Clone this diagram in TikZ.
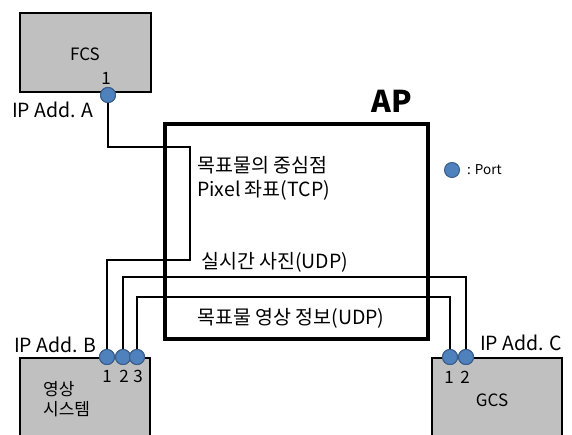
\documentclass[tikz,border=0pt]{standalone}
\usepackage{fontspec}
\setmainfont{Noto Sans CJK KR}
\begin{document}
\begin{tikzpicture}[x=1pt,y=-1pt,
  sysbox/.style={draw=black,line width=1.8pt,fill=boxgray},
  port/.style={circle,draw=portedge,line width=1pt,fill=portblue,minimum size=15pt,inner sep=0pt},
  conn/.style={line width=2.8pt,black},
  lbl/.style={font=\fontsize{17}{20}\selectfont,inner sep=0pt},
  big/.style={font=\fontsize{19.5}{24}\selectfont,inner sep=0pt},
  num/.style={font=\fontsize{17}{20}\selectfont,inner sep=0pt}]
\definecolor{boxgray}{RGB}{192,192,192}
\definecolor{portblue}{RGB}{79,129,189}
\definecolor{portedge}{RGB}{56,93,138}
\clip (0,0) rectangle (572,434);
\fill[white] (0,0) rectangle (572,434);
% boxes
\draw[sysbox] (20,13) rectangle (151,92);
\node[lbl] (fcs) at (85,54) {FCS};
\draw[sysbox] (20,358) rectangle (150,450);
\draw[sysbox] (432,358) rectangle (562,450);
\node[lbl,anchor=west,align=left] (vs) at (43,399) {영상\\시스템};
\node[lbl] (gcs) at (492,400) {GCS};
% AP
\node[draw=black,line width=3.5pt,minimum width=263pt,minimum height=215pt,anchor=north west,inner sep=0pt] (ap) at (163,122) {};
\node[font=\fontsize{30}{32}\bfseries\selectfont,inner sep=0pt] (aplbl) at (392,101) {AP};
% ports
\node[port] (pa) at (108,95) {};
\node[port] (pb1) at (107,357) {};
\node[port] (pb2) at (123,357) {};
\node[port] (pb3) at (137,357) {};
\node[port] (pc1) at (450,357) {};
\node[port] (pc2) at (466,357) {};
% bend coordinates
\coordinate (a1) at (108,147);
\coordinate (a2) at (190,147);
\coordinate (a3) at (190,260);
\coordinate (a4) at (107,260);
\coordinate (b1) at (123,277);
\coordinate (b2) at (466,277);
\coordinate (c1) at (137,297);
\coordinate (c2) at (450,297);
% connectors
\draw[conn,line join=miter] (pa) -- (a1) -- (a2) -- (a3) -- (a4) -- (pb1);
\draw[conn,line join=miter] (pb2) -- (b1) -- (b2) -- (pc2);
\draw[conn,line join=miter] (pb3) -- (c1) -- (c2) -- (pc1);
% redraw ports on top
\node[port] at (pa) {};
\node[port] at (pb1) {};
\node[port] at (pb2) {};
\node[port] at (pb3) {};
\node[port] at (pc1) {};
\node[port] at (pc2) {};
% labels
\node[num] (na) at (106,78) {1};
\node[big,anchor=west] (ipa) at (12,110) {IP Add. A};
\node[big,anchor=west] (ipb) at (14,345) {IP Add. B};
\node[big,anchor=west] (ipc) at (480,343) {IP Add. C};
\node[num] (nb1) at (107,376) {1};
\node[num] (nb2) at (124,376) {2};
\node[num] (nb3) at (138,376) {3};
\node[num] (nc1) at (449,377) {1};
\node[num] (nc2) at (465,377) {2};
\node[big,anchor=west] (t1) at (197,165) {목표물의 중심점};
\node[big,anchor=west] (t2) at (197,190) {Pixel 좌표(TCP)};
\node[big,anchor=west] (t3) at (201,262) {실시간 사진(UDP)};
\node[big,anchor=west] (t4) at (197,318) {목표물 영상 정보(UDP)};
% legend
\node[port] (lp) at (452,170) {};
\node[font=\fontsize{13.5}{15}\selectfont,anchor=west,inner sep=0pt] (lt) at (467,170) {: Port};
\end{tikzpicture}
\end{document}
